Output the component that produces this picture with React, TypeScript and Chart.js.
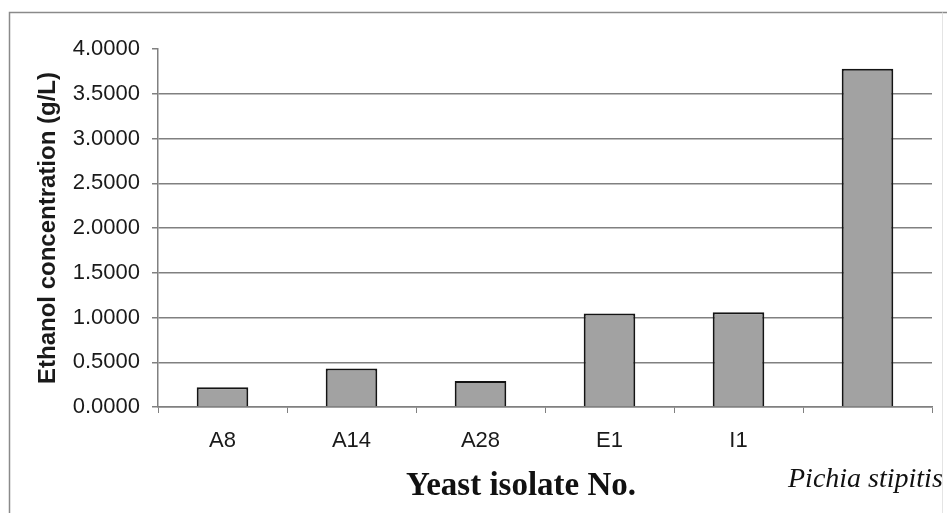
import React, { useEffect, useRef } from "react";
import { Chart, registerables } from "chart.js";

Chart.register(...registerables);

const categories = ["A8", "A14", "A28", "E1", "I1", ""];
const ethanolValues = [0.22, 0.43, 0.29, 1.045, 1.06, 3.78];
const yTicks = [0, 0.5, 1, 1.5, 2, 2.5, 3, 3.5, 4];
const yTitle = "Ethanol concentration (g/L)";
const xTitle = "Yeast isolate No.";
const controlLabel = "Pichia stipitis";

const framePlugin = {
  id: "framePlugin",
  beforeDraw(chart: any) {
    const ctx = chart.ctx;
    ctx.save();
    ctx.fillStyle = "#ffffff";
    ctx.fillRect(0, 0, chart.width, chart.height);
    ctx.strokeStyle = "#8a8a8a";
    ctx.lineWidth = 1.5;
    ctx.beginPath();
    ctx.moveTo(9.5, chart.height);
    ctx.lineTo(9.5, 12.5);
    ctx.lineTo(chart.width, 12.5);
    ctx.stroke();
    ctx.strokeStyle = "#e4e4e4";
    ctx.lineWidth = 1;
    ctx.beginPath();
    ctx.moveTo(942.5, 12.5);
    ctx.lineTo(942.5, chart.height);
    ctx.stroke();
    ctx.restore();
  },
  afterDraw(chart: any) {
    const ctx = chart.ctx;
    ctx.save();
    ctx.fillStyle = "#111111";
    ctx.textBaseline = "alphabetic";
    ctx.font = "bold 33px 'Liberation Serif', 'Times New Roman', serif";
    ctx.textAlign = "center";
    ctx.fillText(xTitle, 521, 495);
    ctx.font = "italic 28px 'Liberation Serif', 'Times New Roman', serif";
    ctx.textAlign = "left";
    ctx.fillText(controlLabel, 788, 487);
    ctx.restore();
  },
};

export default function App() {
  const canvasRef = useRef<HTMLCanvasElement | null>(null);

  useEffect(() => {
    if (!canvasRef.current) return;
    const chart = new Chart(canvasRef.current, {
      type: "bar",
      data: {
        labels: categories,
        datasets: [
          {
            data: ethanolValues,
            backgroundColor: "#a2a2a2",
            borderColor: "#141414",
            borderWidth: 2,
            borderSkipped: "bottom",
            barPercentage: 0.4,
            categoryPercentage: 1,
          },
        ],
      },
      options: {
        animation: false,
        responsive: true,
        maintainAspectRatio: false,
        layout: { padding: { left: 0, right: 15, top: 49, bottom: 0 } },
        plugins: {
          legend: { display: false },
          tooltip: { enabled: false },
        },
        scales: {
          x: {
            offset: true,
            grid: {
              offset: true,
              drawOnChartArea: false,
              drawTicks: true,
              tickLength: 6,
              color: "#808080",
              lineWidth: 1,
            },
            border: { display: true, color: "#808080", width: 1.5 },
            ticks: {
              color: "#1a1a1a",
              padding: 15,
              font: { family: "'Liberation Sans', Arial, sans-serif", size: 22 },
            },
            afterFit: (scale: any) => {
              scale.height = 106;
            },
          },
          y: {
            min: 0,
            max: 4,
            afterBuildTicks: (scale: any) => {
              scale.ticks = yTicks.map((v) => ({ value: v }));
            },
            grid: {
              color: (c: any) => (c.tick && c.tick.value === 4 ? "rgba(0,0,0,0)" : "#808080"),
              tickColor: "#808080",
              tickLength: 6,
              lineWidth: 1.5,
            },
            border: { display: true, color: "#808080", width: 1.5 },
            ticks: {
              color: "#1a1a1a",
              padding: 12,
              font: { family: "'Liberation Sans', Arial, sans-serif", size: 22 },
              callback: (v: any) => Number(v).toFixed(4),
            },
            title: {
              display: true,
              text: yTitle,
              color: "#1a1a1a",
              padding: { top: 34, bottom: 0 },
              font: { family: "'Liberation Sans', Arial, sans-serif", size: 24, weight: "bold" },
            },
            afterFit: (scale: any) => {
              scale.width = 158;
            },
          },
        },
      },
      plugins: [framePlugin],
    });
    return () => chart.destroy();
  }, []);

  return (
    <div style={{ position: "fixed", left: 0, top: 0, width: 947, height: 513 }}>
      <canvas ref={canvasRef} />
    </div>
  );
}
